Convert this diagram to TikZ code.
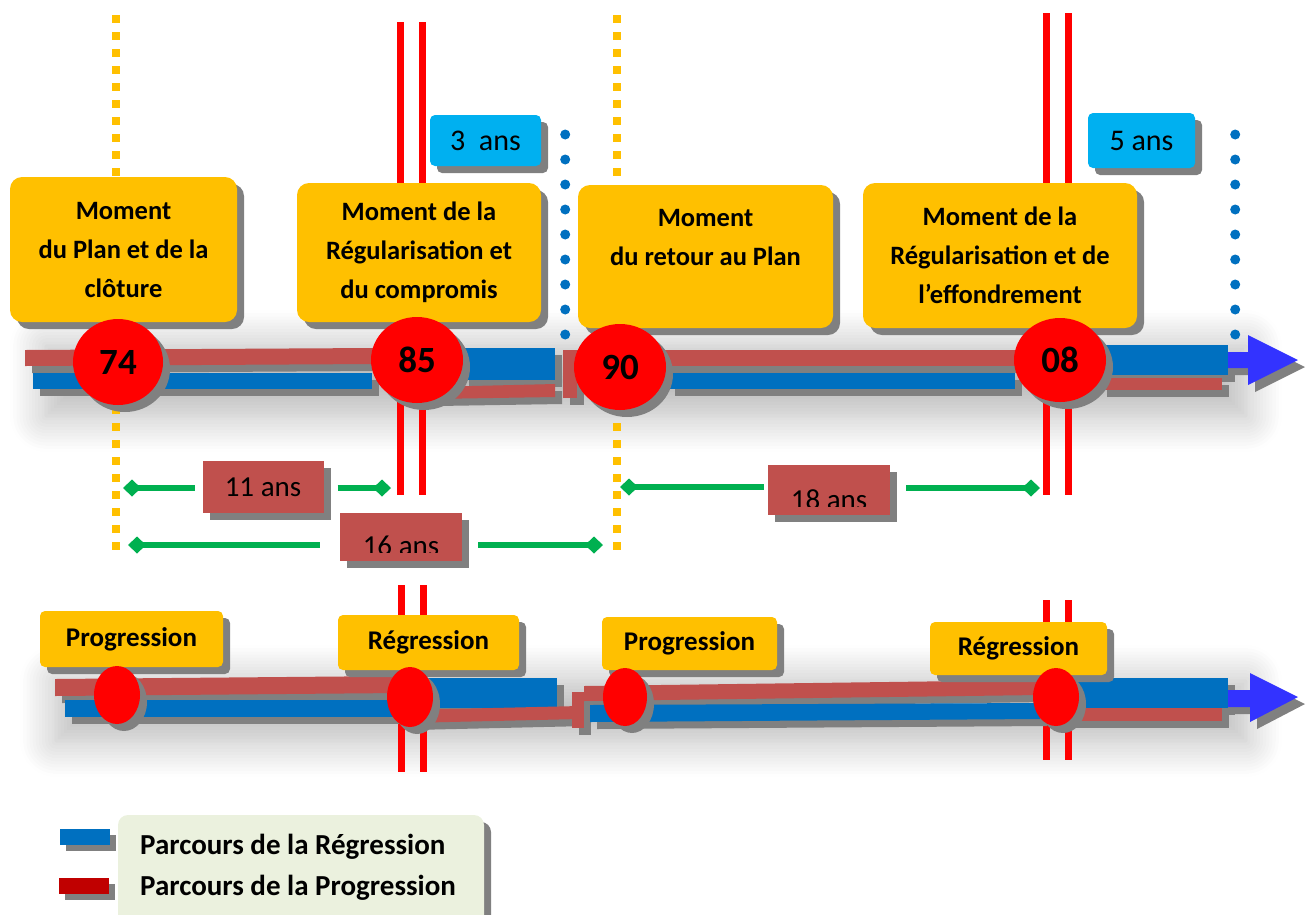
\documentclass[tikz,border=0pt]{standalone}
\usepackage{fontspec}
\setmainfont{Carlito}
\usetikzlibrary{shapes.geometric, arrows.meta, positioning, shadows, shadows.blur, calc, backgrounds}
\definecolor{momentGold}{RGB}{255, 192, 0}
\definecolor{pathRed}{RGB}{192, 80, 77}
\definecolor{pathBlue}{RGB}{0, 112, 192}
\definecolor{dotRed}{RGB}{255, 0, 0}
\definecolor{spanGreen}{RGB}{0, 176, 80}
\definecolor{lapseCyan}{RGB}{0, 176, 240}
\definecolor{arrowBlue}{RGB}{51, 51, 255}
\definecolor{legendGreen}{RGB}{235, 241, 222}
\definecolor{legendRed}{RGB}{192, 0, 0}
\definecolor{shadowGrey}{RGB}{128, 128, 128}
\tikzset{
    % Hard grey shadow shared by every shape
    hardShadow/.style={drop shadow={shadow xshift=7pt, shadow yshift=-7pt, fill=shadowGrey, opacity=1}},
    % Boxes
    momentBox/.style={rectangle, rounded corners=12pt, fill=momentGold, hardShadow,
        align=center, inner sep=0pt, font=\fontsize{26.5}{39}\selectfont\bfseries},
    phaseBox/.style={rectangle, rounded corners=5pt, fill=momentGold, hardShadow,
        inner sep=0pt, font=\fontsize{27}{30}\selectfont\bfseries},
    lapseBox/.style={rectangle, rounded corners=5pt, fill=lapseCyan, hardShadow,
        inner sep=0pt, font=\fontsize{30}{32}\selectfont},
    spanBox/.style={rectangle, fill=pathRed, hardShadow, inner sep=0pt,
        font=\fontsize{29}{32}\selectfont},
    spanCut/.style={spanBox, path picture={
        \clip ([yshift=9pt]path picture bounding box.south west) rectangle (path picture bounding box.north east);
        \node[anchor=base, font=\fontsize{29}{32}\selectfont] at ([yshift=6pt]path picture bounding box.south) {#1};}},
    legendBox/.style={rectangle, rounded corners=10pt, fill=legendGreen, hardShadow, inner sep=0pt},
    legendText/.style={anchor=west, inner sep=0pt, font=\fontsize{29}{32}\selectfont\bfseries},
    swatch/.style={rectangle, inner sep=0pt, minimum width=50pt, minimum height=16pt,
        drop shadow={shadow xshift=6pt, shadow yshift=-6pt, fill=shadowGrey, opacity=1}},
    % Dots on the timelines
    yearDot/.style={ellipse, fill=dotRed, hardShadow, inner sep=0pt,
        font=\fontsize{37}{37}\selectfont\bfseries},
    phaseDot/.style={ellipse, fill=dotRed, hardShadow, inner sep=0pt},
    % Bars and lines
    barRed/.style={fill=pathRed, hardShadow},
    barBlue/.style={fill=pathBlue, hardShadow},
    headBlue/.style={fill=arrowBlue, hardShadow},
    cutLine/.style={draw=dotRed, line width=7pt},
    planLine/.style={draw=momentGold, line width=8pt, dash pattern=on 8pt off 9pt},
    lapseLine/.style={draw=pathBlue, line width=10pt, line cap=round, dash pattern=on 0pt off 25pt},
    spanLine/.style={draw=spanGreen, line width=6pt},
    diamondTip/.tip={Diamond[length=18pt, width=17pt]},
    haze/.style={blur shadow={shadow xshift=6pt, shadow yshift=-16pt, shadow blur radius=36pt,
        shadow blur steps=12, shadow opacity=28}}
}

\begin{document}
\begin{tikzpicture}[x=1pt, y=-1pt]
    \useasboundingbox (0,0) rectangle (1306,914);

    % --- TOP ROW: the four moments ---
    \node (plan) [momentBox, minimum width=227pt, minimum height=145pt] at (123.5,249.5)
        {Moment\\du Plan et de la\\clôture};
    \node (regul) [momentBox, minimum width=244pt, minimum height=139pt] at (419,252.5)
        {Moment de la\\Régularisation et\\du compromis};
    \node (retour) [momentBox, minimum width=255pt, minimum height=143pt] at (705.5,256.5)
        {Moment\\du retour au Plan\\\mbox{}};
    \node (effond) [momentBox, minimum width=274pt, minimum height=145pt] at (1000,255.5)
        {Moment de la\\Régularisation et de\\l’effondrement};

    % durations of the regularisations
    \node (lapse3) [lapseBox, minimum width=111pt, minimum height=51pt] at (485.5,140.5) {3~ ans};
    \node (lapse5) [lapseBox, minimum width=107pt, minimum height=55pt] at (1141.5,140.5) {5 ans};

    % years on the upper timeline
    \node (y74) [yearDot, minimum width=90pt, minimum height=86pt] at (118,362) {74};
    \node (y85) [yearDot, minimum width=92pt, minimum height=86pt] at (417,360) {85};
    \node (y90) [yearDot, minimum width=92pt, minimum height=86pt] at (620,367) {90};
    \node (y08) [yearDot, minimum width=92pt, minimum height=84pt] at (1060,360) {08};

    % --- MIDDLE: spans between the years ---
    \node (span11) [spanBox, minimum width=121pt, minimum height=52pt] at (263,487) {11 ans};
    \node (span18) [spanCut=18 ans, minimum width=122pt, minimum height=50pt] at (829,490) {};
    \node (span16) [spanCut=16 ans, minimum width=122pt, minimum height=48pt] at (401,537) {};

    \coordinate (s11a) at (123,488);
    \coordinate (s11b) at (391,488);
    \coordinate (s18a) at (620,487);
    \coordinate (s18b) at (1040,488);
    \coordinate (s16a) at (128,545);
    \coordinate (s16b) at (603,545);

    % --- LOWER ROW: phases ---
    \node (prog1) [phaseBox, minimum width=183pt, minimum height=56pt] at (131.5,639) {Progression};
    \node (regr1) [phaseBox, minimum width=181pt, minimum height=55pt] at (428.5,642.5) {Régression};
    \node (prog2) [phaseBox, minimum width=175pt, minimum height=53pt] at (689.5,643.5) {Progression};
    \node (regr2) [phaseBox, minimum width=177pt, minimum height=53pt] at (1018.5,648.5) {Régression};

    \node (d1) [phaseDot, minimum width=46pt, minimum height=58pt] at (117,695) {};
    \node (d2) [phaseDot, minimum width=46pt, minimum height=60pt] at (410,697) {};
    \node (d3) [phaseDot, minimum width=44pt, minimum height=58pt] at (625,697) {};
    \node (d4) [phaseDot, minimum width=46pt, minimum height=58pt] at (1056,697) {};

    % --- LEGEND ---
    \node (legend) [legendBox, minimum width=366pt, minimum height=112pt] at (301,871) {};
    \node (legReg) [legendText] at (140,847) {Parcours de la Régression};
    \node (legProg) [legendText] at (140,888) {Parcours de la Progression};
    \node (swReg) [swatch, fill=pathBlue] at (85,837) {};
    \node (swProg) [swatch, fill=legendRed] at (84,886) {};

    \begin{scope}[on background layer]
        % soft haze under the two timelines
        \path[haze] (40,330) rectangle (1240,400);
        \path[haze] (50,665) rectangle (1240,725);

        % marks of the Plan (yellow) and of the lapses (blue)
        \draw[planLine] (y74.center) ++(-2,-347) -- ++(0,540);
        \draw[planLine] (y90.center) ++(-3,-352) -- ++(0,540);
        \draw[lapseLine] (lapse3.east) ++(24,-6) -- ++(0,210);
        \draw[lapseLine] (lapse5.east) ++(40,-6) -- ++(0,210);

        % double red cuts
        \draw[cutLine] (y85.center) ++(-17,-338) -- ++(0,473);
        \draw[cutLine] (y85.center) ++(5,-338) -- ++(0,473);
        \draw[cutLine] (y08.center) ++(-14,-347) -- ++(0,482);
        \draw[cutLine] (y08.center) ++(8,-347) -- ++(0,482);
        \draw[cutLine] (d2.center) ++(-9,-112) -- ++(0,187);
        \draw[cutLine] (d2.center) ++(13,-112) -- ++(0,187);
        \draw[cutLine] (d4.center) ++(-10,-97) -- ++(0,160);
        \draw[cutLine] (d4.center) ++(12,-97) -- ++(0,160);

        % upper timeline
        \fill[barRed] (25,350) -- (375,348) -- (375,364) -- (25,366) -- cycle;
        \fill[barBlue] (33,373) rectangle (372,389);
        \fill[barBlue] (462,348) rectangle (555,380);
        \fill[barRed] (430,387) -- (555,384) -- (555,397) -- (430,399) -- cycle;
        \fill[barRed] (563,350) rectangle (577,398);
        \fill[barRed] (577,350) rectangle (1022,366);
        \fill[barBlue] (668,373) rectangle (1015,389);
        \fill[barBlue] (1100,345) rectangle (1228,375);
        \fill[barRed] (1100,378) rectangle (1222,390);
        \fill[headBlue] (1228,352) -- (1248,352) -- (1248,335) -- (1298,360)
            -- (1248,385) -- (1248,368) -- (1228,368) -- cycle;

        % lower timeline
        \fill[barRed] (55,679) -- (400,676) -- (400,693) -- (55,696) -- cycle;
        \fill[barBlue] (65,700) rectangle (400,717);
        \fill[barBlue] (425,678) rectangle (557,708);
        \fill[barRed] (405,710) -- (580,706) -- (580,719) -- (405,723) -- cycle;
        \fill[barRed] (572,692) rectangle (584,728);
        \fill[barRed] (584,686) -- (1040,680) -- (1040,695) -- (584,701) -- cycle;
        \fill[barBlue] (590,705) -- (1040,703) -- (1040,719) -- (590,722) -- cycle;
        \fill[barBlue] (1060,678) rectangle (1228,708);
        \fill[barRed] (1060,708) rectangle (1222,721);
        \fill[headBlue] (1228,690) -- (1250,690) -- (1250,673) -- (1298,697)
            -- (1250,722) -- (1250,707) -- (1228,707) -- cycle;

        % spans with diamond ends
        \draw[spanLine, diamondTip-] (s11a) -- ([xshift=-7pt]span11.west |- s11a);
        \draw[spanLine, -diamondTip] ([xshift=14pt]span11.east |- s11b) -- (s11b);
        \draw[spanLine, diamondTip-] (s18a) -- ([xshift=-4pt]span18.west |- s18a);
        \draw[spanLine, -diamondTip] ([xshift=16pt]span18.east |- s18b) -- (s18b);
        \draw[spanLine, diamondTip-] (s16a) -- ([xshift=-20pt]span16.west |- s16a);
        \draw[spanLine, -diamondTip] ([xshift=16pt]span16.east |- s16b) -- (s16b);
    \end{scope}

\end{tikzpicture}
\end{document}
